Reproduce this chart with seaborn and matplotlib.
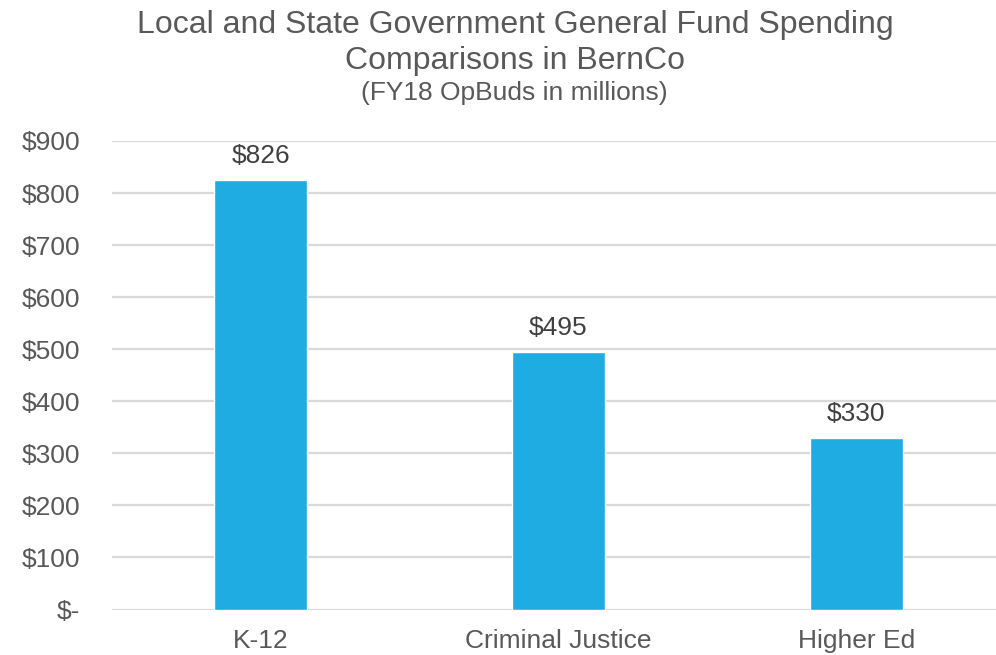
import matplotlib

matplotlib.use("Agg")
import matplotlib.pyplot as plt
import pandas as pd
import seaborn as sns
from matplotlib.ticker import FuncFormatter


categories = ["K-12", "Criminal Justice", "Higher Ed"]
spending = [826, 495, 330]
y_ticks = [0, 100, 200, 300, 400, 500, 600, 700, 800, 900]

TEXT = "#595959"
LABEL = "#404040"
BAR = "#1EACE2"
GRID = "#D9D9D9"


def money(v, _pos=None):
    return "$-" if v == 0 else f"${v:,.0f}"


def main():
    sns.set_theme(style="white")
    plt.rcParams["font.family"] = ["Liberation Sans", "DejaVu Sans"]

    data = pd.DataFrame({"Category": categories, "Spending": spending})

    fig = plt.figure(figsize=(9.96, 6.55), dpi=100)
    fig.patch.set_facecolor("white")
    ax = fig.add_axes([112 / 996, 45.5 / 655, 893 / 996, 468.5 / 655])

    sns.barplot(data=data, x="Category", y="Spending", color=BAR,
                saturation=1, width=0.312, ax=ax, zorder=3)

    ax.set_ylim(0, 900)
    ax.set_xlim(-0.5, 2.5)
    ax.set_yticks(y_ticks)
    ax.yaxis.set_major_formatter(FuncFormatter(money))
    ax.yaxis.grid(True, color=GRID, linewidth=1.6, zorder=0)
    ax.set_axisbelow(True)
    for s in ax.spines.values():
        s.set_visible(False)
    ax.tick_params(axis="y", length=0, pad=23, labelsize=19, labelcolor=TEXT)
    ax.tick_params(axis="x", length=0, pad=14, labelsize=19, labelcolor=TEXT)
    ax.set_xlabel("")
    ax.set_ylabel("")

    for i, v in enumerate(spending):
        ax.annotate(money(v), (i, v), xytext=(0, 12), textcoords="offset points",
                    ha="center", va="baseline", fontsize=19, color=LABEL)

    fig.text(0.517, 1 - 33 / 655, "Local and State Government General Fund Spending",
             ha="center", va="baseline", fontsize=23, color=TEXT)
    fig.text(0.517, 1 - 69 / 655, "Comparisons in BernCo",
             ha="center", va="baseline", fontsize=23, color=TEXT)
    fig.text(0.516, 1 - 100 / 655, "(FY18 OpBuds in millions)",
             ha="center", va="baseline", fontsize=19, color=TEXT)

    fig.savefig("out.png", dpi=100, facecolor="white")
    plt.close(fig)


if __name__ == "__main__":
    main()
